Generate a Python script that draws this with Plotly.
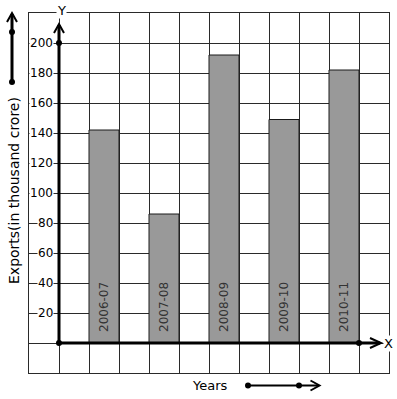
import plotly.graph_objects as go

# ---- data ----
years = ["2006-07", "2007-08", "2008-09", "2009-10", "2010-11"]
exports = [142, 86, 192, 149, 182]
y_ticks = [20, 40, 60, 80, 100, 120, 140, 160, 180, 200]

# ---- geometry (pixels) ----
W, H = 397, 399
L, R, T, B = 29, 389, 13, 373
XR = [-1, 11]
YR = [-20, 220]


def px(xp):  # pixel -> paper x
    return (xp - L) / (R - L)


def py(yp):  # pixel -> paper y
    return (B - yp) / (B - T)


def dx(xp):  # pixel -> data x
    return XR[0] + (xp - L) / (R - L) * (XR[1] - XR[0])


def dy(yp):  # pixel -> data y
    return YR[0] + (B - yp) / (B - T) * (YR[1] - YR[0])


bar_x = [1.5 + 2 * i for i in range(len(years))]

fig = go.Figure()
fig.add_trace(go.Bar(
    x=bar_x, y=exports, width=1,
    marker=dict(color="#999999", line=dict(color="#1a1a1a", width=1)),
    hoverinfo="skip",
))

# dots on the axes
fig.add_trace(go.Scatter(
    x=[0, 0, 10], y=[0, 200, 0], mode="markers",
    marker=dict(color="black", size=6), cliponaxis=False, hoverinfo="skip",
))

shapes = []
# axis lines
shapes.append(dict(type="line", xref="x", yref="y", x0=0, y0=0, x1=0, y1=dy(25),
                   line=dict(color="black", width=3)))
shapes.append(dict(type="line", xref="x", yref="y", x0=0, y0=0, x1=dx(380), y1=0,
                   line=dict(color="black", width=3)))
# arrow heads (pixel-sized chevrons)
shapes.append(dict(type="path", xref="x", yref="y", xsizemode="pixel", ysizemode="pixel",
                   xanchor=0, yanchor=dy(24), path="M-5,-9 L0,0 L5,-9",
                   line=dict(color="black", width=2)))
shapes.append(dict(type="path", xref="x", yref="y", xsizemode="pixel", ysizemode="pixel",
                   xanchor=dx(381), yanchor=0, path="M-11,5 L0,0 L-11,-5",
                   line=dict(color="black", width=2)))
# left decorative arrow
shapes.append(dict(type="line", xref="paper", yref="paper", x0=px(12), y0=py(82),
                   x1=px(12), y1=py(14), line=dict(color="black", width=3)))
shapes.append(dict(type="path", xref="paper", yref="paper", xsizemode="pixel", ysizemode="pixel",
                   xanchor=px(12), yanchor=py(13), path="M-5,-9 L0,0 L5,-9",
                   line=dict(color="black", width=2)))
# bottom decorative arrow
shapes.append(dict(type="line", xref="paper", yref="paper", x0=px(248), y0=py(385.5),
                   x1=px(318), y1=py(385.5), line=dict(color="black", width=2)))
shapes.append(dict(type="path", xref="paper", yref="paper", xsizemode="pixel", ysizemode="pixel",
                   xanchor=px(319.5), yanchor=py(385.5), path="M-9,5 L0,0 L-9,-5",
                   line=dict(color="black", width=2)))
# dots on decorative arrows
for (cx, cy) in [(12, 82), (12, 32), (248, 385.5), (299, 385.5)]:
    shapes.append(dict(type="circle", xref="paper", yref="paper", xsizemode="pixel",
                       ysizemode="pixel", xanchor=px(cx), yanchor=py(cy),
                       x0=-3, x1=3, y0=-3, y1=3, fillcolor="black",
                       line=dict(color="black", width=0)))

annotations = []
FONT = "DejaVu Sans"
for v in y_ticks:
    annotations.append(dict(x=0, y=v, xref="x", yref="y", text=str(v), showarrow=False,
                            xanchor="right", yanchor="middle", xshift=-5,
                            bgcolor="white", borderpad=0,
                            font=dict(family=FONT, size=12, color="black")))
for xb, lab in zip(bar_x, years):
    annotations.append(dict(x=xb, y=0, xref="x", yref="y", text=lab, showarrow=False,
                            textangle=-90, xanchor="center", yanchor="bottom", yshift=9,
                            font=dict(family=FONT, size=12, color="#333333")))
annotations.append(dict(x=0, y=YR[1], xref="x", yref="y", text="Y", showarrow=False,
                        xanchor="center", yanchor="middle", xshift=2, yshift=3,
                        bgcolor="white", borderpad=0,
                        font=dict(family=FONT, size=13, color="black")))
annotations.append(dict(x=XR[1], y=0, xref="x", yref="y", text="X", showarrow=False,
                        xanchor="center", yanchor="middle", xshift=-1,
                        bgcolor="white", borderpad=0,
                        font=dict(family=FONT, size=13, color="black")))
annotations.append(dict(x=px(14), y=py(191), xref="paper", yref="paper",
                        text="Exports(in thousand crore)", showarrow=False, textangle=-90,
                        xanchor="center", yanchor="middle",
                        font=dict(family=FONT, size=14, color="black")))
annotations.append(dict(x=px(210), y=py(385), xref="paper", yref="paper",
                        text="Years", showarrow=False, xanchor="center", yanchor="middle",
                        font=dict(family=FONT, size=13, color="black")))

axis_common = dict(showgrid=True, gridcolor="#2a2a2a", gridwidth=1, zeroline=False,
                   showticklabels=False, ticks="", showline=True, mirror=True,
                   linecolor="#2a2a2a", linewidth=1, fixedrange=True)

fig.update_layout(
    width=W, height=H, autosize=False,
    margin=dict(l=L, r=W - R, t=T, b=H - B, pad=0),
    plot_bgcolor="white", paper_bgcolor="white",
    showlegend=False,
    xaxis=dict(range=XR, tick0=0, dtick=1, **axis_common),
    yaxis=dict(range=YR, tick0=0, dtick=20, **axis_common),
    shapes=shapes, annotations=annotations,
    font=dict(family=FONT),
)

fig.write_html(
    "out.html",
    config={"displayModeBar": False},
    post_script="document.body.style.margin='0';document.body.style.overflow='hidden';",
)
